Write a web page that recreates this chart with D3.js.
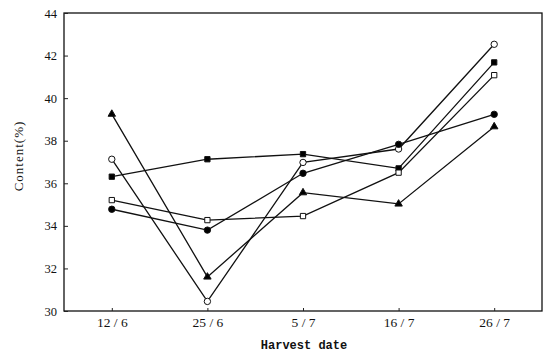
<!DOCTYPE html>
<html>
<head>
<meta charset="utf-8">
<script src="https://cdn.jsdelivr.net/npm/d3@7"></script>
<style>
  body { margin: 0; background: #fff; }
  svg { display: block; }
  .tick text { font-family: "Liberation Serif", "DejaVu Serif", serif; fill: #111; }
</style>
</head>
<body>
<svg id="chart" width="547" height="358"></svg>
<script>
// harvest dates on the x axis
const dates = ["12/6", "25/6", "5/7", "16/7", "26/7"];
const yTicks = [30, 32, 34, 36, 38, 40, 42, 44];

// one array per series (content %)
const openCircle = [37.13, 30.45, 36.98, 37.61, 42.53];
const filledSquare = [36.31, 37.13, 37.37, 36.7, 41.68];
const openSquare = [35.21, 34.27, 34.46, 36.5, 41.08];
const filledCircle = [34.78, 33.8, 36.47, 37.83, 39.24];
const triangle = [39.25, 31.6, 35.56, 35.03, 38.66];

const series = [
  { name: "openCircle", values: openCircle, shape: "circle", fill: "#fff" },
  { name: "filledSquare", values: filledSquare, shape: "square", fill: "#000" },
  { name: "openSquare", values: openSquare, shape: "square", fill: "#fff" },
  { name: "filledCircle", values: filledCircle, shape: "circle", fill: "#000" },
  { name: "triangle", values: triangle, shape: "triangle", fill: "#000" }
];

const svg = d3.select("#chart");
const plotLeft = 64, plotRight = 542, plotTop = 13, plotBottom = 311;

const x = d3.scalePoint().domain(dates).range([plotLeft, plotRight]).padding(0.5);
const y = d3.scaleLinear().domain([30, 44]).range([plotBottom, plotTop]);

// frame
svg.append("rect")
  .attr("x", plotLeft).attr("y", plotTop)
  .attr("width", plotRight - plotLeft).attr("height", plotBottom - plotTop)
  .attr("fill", "none").attr("stroke", "#111").attr("stroke-width", 1.3);

// y axis, ticks pointing in
const yAxis = svg.append("g")
  .attr("transform", `translate(${plotLeft},0)`)
  .call(d3.axisLeft(y).tickValues(yTicks).tickSize(-4).tickPadding(7).tickFormat(d3.format("d")));
yAxis.select(".domain").remove();
yAxis.selectAll(".tick line").attr("stroke", "#222");
yAxis.selectAll(".tick text").attr("font-size", 12.5);

// x axis
const xAxis = svg.append("g")
  .attr("transform", `translate(0,${plotBottom})`)
  .call(d3.axisBottom(x).tickSize(-3).tickPadding(6).tickFormat(d => d.replace("/", " / ")));
xAxis.select(".domain").remove();
xAxis.selectAll(".tick line").attr("stroke", "#222");
xAxis.selectAll(".tick text").attr("font-size", 13.5);

// axis titles
svg.append("text")
  .attr("x", 304).attr("y", 349)
  .attr("text-anchor", "middle")
  .attr("font-family", "Liberation Mono, DejaVu Sans Mono, monospace")
  .attr("font-weight", "bold")
  .attr("font-size", 12)
  .attr("fill", "#111")
  .text("Harvest date");

svg.append("text")
  .attr("transform", "translate(23,156) rotate(-90)")
  .attr("text-anchor", "middle")
  .attr("font-family", "Liberation Serif, DejaVu Serif, serif")
  .attr("font-size", 13)
  .attr("letter-spacing", 1)
  .attr("fill", "#111")
  .text("Content(%)");

const line = d3.line()
  .x((d, i) => x(dates[i]))
  .y(d => y(d));

series.forEach(s => {
  svg.append("path")
    .attr("d", line(s.values))
    .attr("fill", "none")
    .attr("stroke", "#111")
    .attr("stroke-width", 1.3);
});

series.forEach(s => {
  const g = svg.append("g").attr("class", s.name);
  const pts = g.selectAll("path")
    .data(s.values)
    .enter()
    .append("path")
    .attr("transform", (d, i) => `translate(${x(dates[i])},${y(d)})`)
    .attr("fill", s.fill)
    .attr("stroke", "#111")
    .attr("stroke-width", 1);
  if (s.shape === "circle") {
    pts.attr("d", d3.symbol(d3.symbolCircle, 32)());
  } else if (s.shape === "square") {
    pts.attr("d", d3.symbol(d3.symbolSquare, 28)());
  } else {
    pts.attr("d", d3.symbol(d3.symbolTriangle, 24)());
  }
});
</script>
</body>
</html>
